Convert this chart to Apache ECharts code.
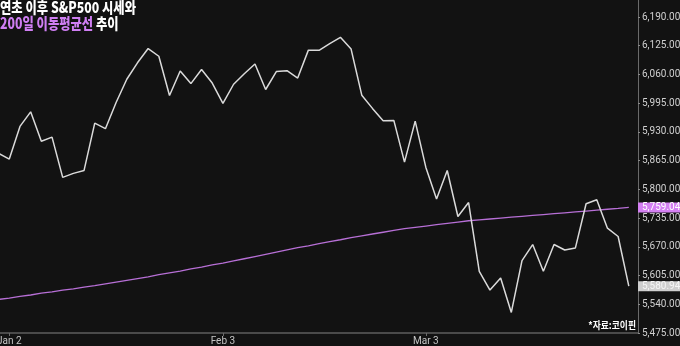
<!DOCTYPE html>
<html>
<head>
<meta charset="utf-8">
<script src="https://cdn.jsdelivr.net/npm/echarts@6/dist/echarts.min.js"></script>
<style>
html,body{margin:0;padding:0;background:#121212;}
#c{width:680px;height:346px;}
</style>
</head>
<body>
<div id="c"></div>
<script>
const dates = [
  '2024-12-31',
  '2025-01-02','2025-01-03','2025-01-06','2025-01-07','2025-01-08','2025-01-10','2025-01-13','2025-01-14','2025-01-15','2025-01-16',
  '2025-01-17','2025-01-21','2025-01-22','2025-01-23','2025-01-24','2025-01-27','2025-01-28','2025-01-29','2025-01-30','2025-01-31',
  '2025-02-03','2025-02-04','2025-02-05','2025-02-06','2025-02-07','2025-02-10','2025-02-11','2025-02-12','2025-02-13','2025-02-14',
  '2025-02-18','2025-02-19','2025-02-20','2025-02-21','2025-02-24','2025-02-25','2025-02-26','2025-02-27','2025-02-28',
  '2025-03-03','2025-03-04','2025-03-05','2025-03-06','2025-03-07','2025-03-10','2025-03-11','2025-03-12','2025-03-13','2025-03-14',
  '2025-03-17','2025-03-18','2025-03-19','2025-03-20','2025-03-21','2025-03-24','2025-03-25','2025-03-26','2025-03-27','2025-03-28'
];
const sp500 = [
  5881.63,
  5868.55, 5942.47, 5975.38, 5909.03, 5918.25, 5827.04, 5836.22, 5842.91, 5949.91, 5937.34,
  5996.66, 6049.24, 6086.37, 6118.71, 6101.24, 6012.28, 6067.70, 6039.31, 6071.17, 6040.53,
  5994.57, 6037.88, 6061.48, 6083.57, 6025.99, 6066.44, 6068.50, 6051.97, 6115.07, 6114.63,
  6129.58, 6144.15, 6117.52, 6013.13, 5983.25, 5955.25, 5956.06, 5861.57, 5954.50,
  5849.72, 5778.15, 5842.63, 5738.52, 5770.20, 5614.56, 5572.07, 5599.30, 5521.52, 5638.94,
  5675.12, 5614.66, 5675.29, 5662.89, 5667.56, 5767.57, 5776.65, 5712.20, 5693.31, 5580.94
];
const ma200 = [
  5551,
  5554, 5558, 5561, 5565, 5568, 5572, 5575, 5579, 5582, 5586,
  5590, 5594, 5598, 5602, 5607, 5611, 5615, 5620, 5624, 5629,
  5633, 5638, 5643, 5648, 5653, 5658, 5663, 5668, 5672, 5677,
  5682, 5686, 5691, 5695, 5699, 5703, 5707, 5711, 5714,
  5717, 5720, 5723, 5726, 5729, 5731, 5733, 5735, 5737, 5739,
  5741, 5743, 5745, 5747, 5749, 5751, 5753, 5755, 5757, 5759.04
];
const yTicks = [5475, 5540, 5605, 5670, 5735, 5800, 5865, 5930, 5995, 6060, 6125, 6190];
const xTickDates = ['2025-01-02', '2025-02-03', '2025-03-03'];
const xTickLabels = ['Jan 2', 'Feb 3', 'Mar 3'];
const titleLine1 = '연초 이후 S&P500 시세와';
const titleLine2a = '200일 이동평균선';
const titleLine2b = ' 추이';
const sourceNote = '*자료:코이핀';

const fmt = v => Number(v).toLocaleString('en-US', {minimumFractionDigits: 2, maximumFractionDigits: 2});
const xTickIdx = xTickDates.map(d => dates.indexOf(d));
const spData = sp500.map((v, i) => [i, v]);
const maData = ma200.map((v, i) => [i, v]);

function endMark(value, bg, fg) {
  return {
    silent: true,
    symbol: 'none',
    lineStyle: {color: 'rgba(0,0,0,0)', width: 1, type: 'solid'},
    emphasis: {disabled: true},
    data: [{yAxis: value}],
    label: {
      show: true,
      position: 'end',
      distance: 0,
      formatter: () => fmt(value),
      color: fg,
      backgroundColor: bg,
      fontSize: 10,
      fontFamily: 'Roboto',
      lineHeight: 10,
      padding: [0, 3, 0, 4],
      opacity: 1
    }
  };
}

const chart = echarts.init(document.getElementById('c'), null, {renderer: 'canvas'});
chart.setOption({
  backgroundColor: '#121212',
  animation: false,
  grid: {left: 0, right: 42, top: 0, bottom: 13, containLabel: false, outerBoundsMode: 'none'},
  xAxis: {
    type: 'value',
    min: 0.13,
    max: 59.86,
    splitLine: {show: false},
    axisLine: {show: true, lineStyle: {color: '#5e5e5e', width: 1.5}},
    axisTick: {show: true, length: 3, customValues: xTickIdx, lineStyle: {color: '#6a6a6a'}},
    axisLabel: {
      customValues: xTickIdx,
      margin: 3,
      color: '#c4c4c4',
      fontSize: 10,
      fontFamily: 'Roboto',
      formatter: v => xTickLabels[xTickIdx.indexOf(Math.round(v))] || ''
    }
  },
  yAxis: {
    type: 'value',
    position: 'right',
    min: 5475,
    max: 6228.5,
    splitLine: {show: false},
    axisLine: {show: true, lineStyle: {color: '#6a6a6a', width: 1}},
    axisTick: {show: true, length: 2, customValues: yTicks, lineStyle: {color: '#8a8a8a'}},
    axisLabel: {
      customValues: yTicks,
      margin: 4,
      color: '#d0d0d0',
      fontSize: 10,
      fontFamily: 'Roboto',
      formatter: v => fmt(v)
    }
  },
  series: [
    {
      name: '200일 이동평균선',
      type: 'line',
      data: maData,
      showSymbol: false,
      lineStyle: {color: '#b76fd6', width: 1.3},
      z: 3,
      markLine: endMark(ma200[ma200.length - 1], '#d480f2', '#ffffff')
    },
    {
      name: 'S&P500',
      type: 'line',
      data: spData,
      showSymbol: false,
      lineStyle: {color: '#dadada', width: 1.5},
      z: 4,
      markLine: endMark(sp500[sp500.length - 1], '#cfcfcf', '#f6f6f6')
    }
  ],
  graphic: [
    {
      type: 'group',
      left: 0,
      top: 0,
      scaleX: 0.82,
      children: [
        {
          type: 'text',
          x: 0, y: 1,
          style: {
            text: titleLine1,
            fill: '#ffffff',
            font: '900 15px "Noto Sans CJK KR"'
          }
        },
        {
          type: 'text',
          x: 0, y: 17,
          style: {
            text: '{p|' + titleLine2a + '}{w|' + titleLine2b + '}',
            font: '900 15px "Noto Sans CJK KR"',
            rich: {
              p: {fill: '#cf7ef3', font: '900 15px "Noto Sans CJK KR"'},
              w: {fill: '#ffffff', font: '900 15px "Noto Sans CJK KR"'}
            }
          }
        }
      ]
    },
    {
      type: 'text',
      right: 44,
      top: 320,
      scaleX: 0.88,
      style: {
        text: sourceNote,
        fill: '#ffffff',
        font: 'bold 10px "Noto Sans CJK KR"'
      }
    }
  ]
});
</script>
</body>
</html>
